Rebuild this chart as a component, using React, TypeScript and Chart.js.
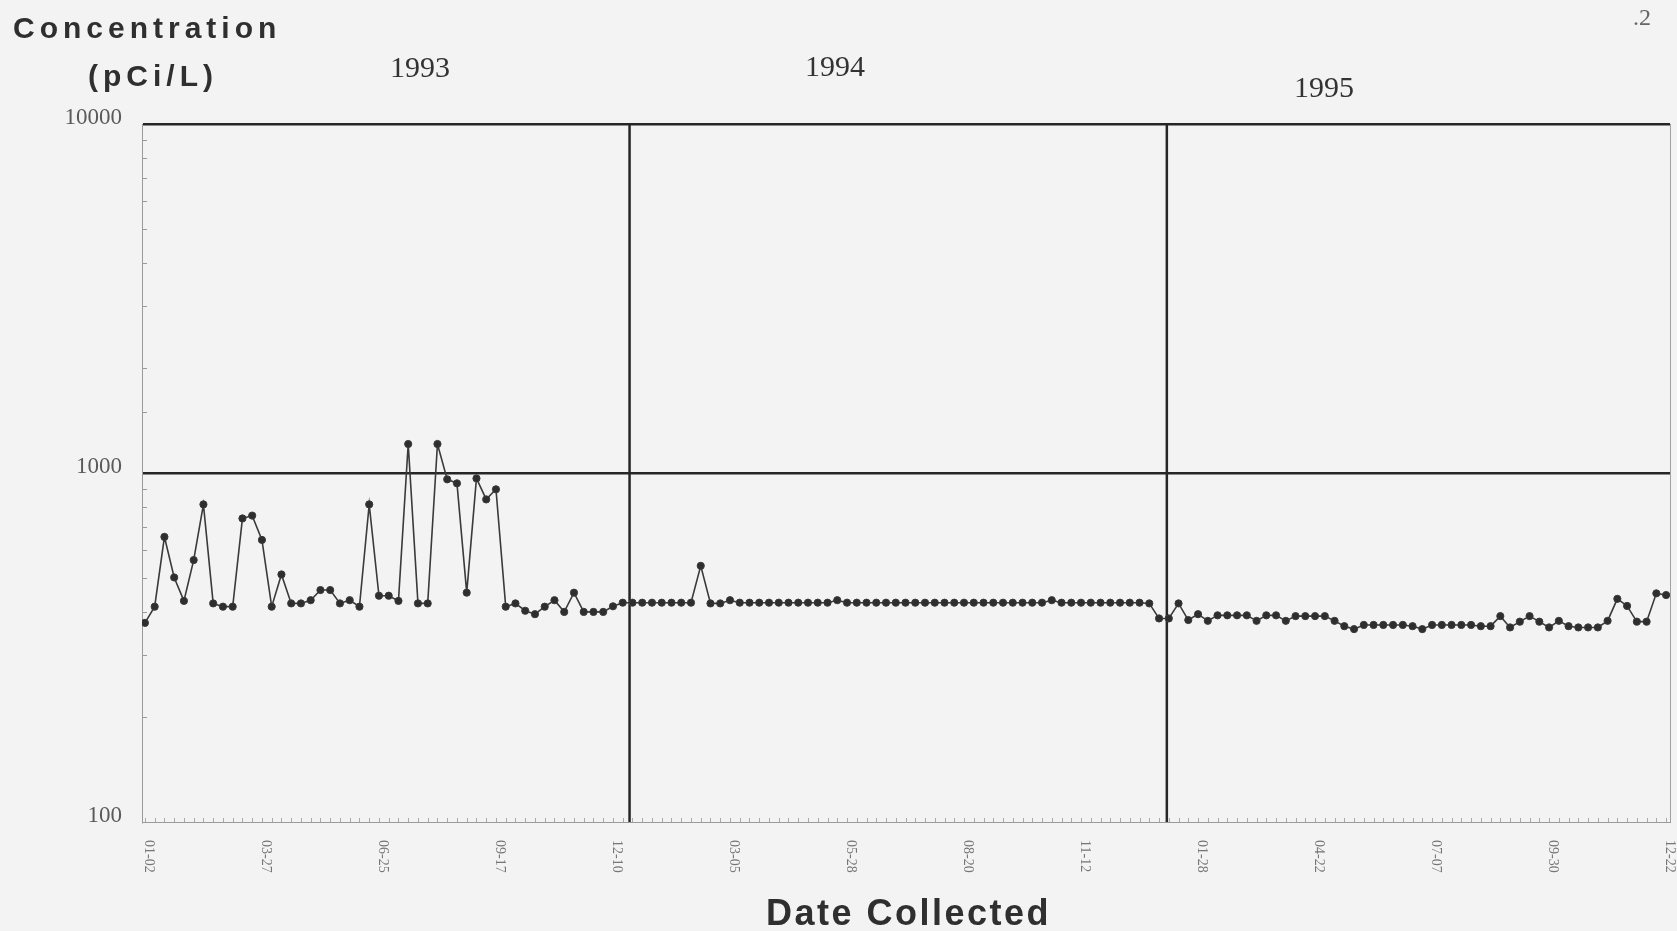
import React, { useEffect, useRef } from "react";
import { Chart, registerables } from "chart.js";

Chart.register(...registerables);

// Weekly tritium concentration samples (pCi/L), 1993-01-02 .. 1995-12-22
const concentration: number[] = [
  372, 414, 656, 502, 430, 563, 813, 423, 414, 414,
  741, 755, 643, 414, 512, 423, 423, 432, 462, 462,
  423, 432, 414, 813, 445, 445, 430, 1211, 423, 423,
  1211, 959, 934, 454, 965, 840, 898, 414, 423, 403,
  394, 414, 432, 400, 454, 400, 400, 400, 415,
  425, 425, 425, 425, 425, 425, 425, 425,
  542,
  423, 423, 432,
  425, 425, 425, 425, 425, 425, 425, 425, 425, 425,
  432,
  425, 425, 425, 425, 425, 425, 425, 425, 425, 425,
  425, 425, 425, 425, 425, 425, 425, 425, 425, 425, 425,
  432,
  425, 425, 425, 425, 425, 425, 425, 425, 425,
  423,
  383, 383, 423, 379, 394, 377, 391, 391, 391, 391,
  377, 391, 391, 377, 389, 389, 389, 389, 377, 364,
  357, 367, 367, 367, 367, 367, 364, 357, 367, 367,
  367, 367, 367, 364, 364, 389, 361, 375, 389, 375,
  361, 377, 364, 361, 361, 361, 377, 436, 416, 375,
  375, 452, 447,
];

const sampleIndex: number[] = concentration.map((_, i) => i);

const xTickIndex: number[] = [0, 12, 24, 36, 48, 60, 72, 84, 96, 108, 120, 132, 144, 156];
const xTickLabels: string[] = [
  "01-02", "03-27", "06-25", "09-17", "12-10", "03-05", "05-28",
  "08-20", "11-12", "01-28", "04-22", "07-07", "09-30", "12-22",
];

const yearLabels: string[] = ["1993", "1994", "1995"];
const yearBoundaries: number[] = [49.7, 104.8];
const yMajorTicks: number[] = [100, 1000, 10000];

const yAxisTitle: string[] = ["Concentration", "(pCi/L)"];
const xAxisTitle = "Date Collected";
const pageMark = ".2";

const SANS = '"Liberation Sans", Arial, Helvetica, sans-serif';
const SERIF = '"Liberation Serif", "Times New Roman", serif';

const decorPlugin = {
  id: "decor",
  beforeDatasetsDraw(chart: any) {
    const { ctx, chartArea, scales } = chart;
    const x = scales.x;
    const y = scales.y;
    ctx.save();
    // right border
    ctx.strokeStyle = "#a0a0a0";
    ctx.lineWidth = 1;
    ctx.beginPath();
    ctx.moveTo(chartArea.right + 0.5, chartArea.top);
    ctx.lineTo(chartArea.right + 0.5, chartArea.bottom);
    ctx.stroke();
    // minor ticks on left axis (inward)
    ctx.strokeStyle = "#9a9a9a";
    ctx.lineWidth = 1;
    for (const t of y.ticks) {
      if (yMajorTicks.includes(t.value)) continue;
      const py = Math.round(y.getPixelForValue(t.value)) + 0.5;
      ctx.beginPath();
      ctx.moveTo(chartArea.left, py);
      ctx.lineTo(chartArea.left + 5, py);
      ctx.stroke();
    }
    // minor ticks on bottom axis, one per sample (inward)
    ctx.strokeStyle = "#a8a8a8";
    for (const i of sampleIndex) {
      const px = Math.round(x.getPixelForValue(i)) + 0.5;
      ctx.beginPath();
      ctx.moveTo(px, chartArea.bottom);
      ctx.lineTo(px, chartArea.bottom - 4);
      ctx.stroke();
    }
    // year boundary lines
    ctx.strokeStyle = "#262626";
    ctx.lineWidth = 2.5;
    for (const b of yearBoundaries) {
      const px = x.getPixelForValue(b);
      ctx.beginPath();
      ctx.moveTo(px, chartArea.top);
      ctx.lineTo(px, chartArea.bottom);
      ctx.stroke();
    }
    ctx.restore();
  },
  afterDraw(chart: any) {
    const { ctx, chartArea, scales } = chart;
    const x = scales.x;
    ctx.save();
    // x tick labels, rotated clockwise
    ctx.fillStyle = "#767676";
    ctx.font = `14px ${SERIF}`;
    ctx.textAlign = "left";
    ctx.textBaseline = "middle";
    xTickIndex.forEach((v, k) => {
      const px = x.getPixelForValue(v) + 4;
      ctx.save();
      ctx.translate(px, chartArea.bottom + 18);
      ctx.rotate(Math.PI / 2);
      ctx.fillText(xTickLabels[k], 0, 0);
      ctx.restore();
    });
    // y-axis title
    ctx.fillStyle = "#2f2f2f";
    ctx.font = `bold 30px ${SANS}`;
    (ctx as any).letterSpacing = "5px";
    ctx.textBaseline = "middle";
    ctx.textAlign = "left";
    ctx.fillText(yAxisTitle[0], 13, 30);
    ctx.fillText(yAxisTitle[1], 88, 78);
    // x-axis title
    (ctx as any).letterSpacing = "2.5px";
    ctx.font = `bold 36px ${SANS}`;
    ctx.fillText(xAxisTitle, 766, 915);
    (ctx as any).letterSpacing = "0px";
    // year labels
    ctx.fillStyle = "#333";
    ctx.font = `30px ${SERIF}`;
    ctx.textAlign = "center";
    const yearPos = [
      [420, 69],
      [835, 68],
      [1324, 89],
    ];
    yearLabels.forEach((t, k) => ctx.fillText(t, yearPos[k][0], yearPos[k][1]));
    // page mark
    ctx.fillStyle = "#666";
    ctx.font = `24px ${SERIF}`;
    ctx.fillText(pageMark, 1642, 19);
    ctx.restore();
  },
};

export default function App() {
  const canvasRef = useRef<HTMLCanvasElement | null>(null);

  useEffect(() => {
    if (!canvasRef.current) return;
    const chart = new Chart(canvasRef.current, {
      type: "line",
      data: {
        datasets: [
          {
            data: concentration.map((v, i) => ({ x: sampleIndex[i], y: v })),
            borderColor: "#3a3a3a",
            borderWidth: 1.6,
            pointRadius: 3.6,
            pointBackgroundColor: "#2e2e2e",
            pointBorderColor: "#3a3a3a",
            pointBorderWidth: 1,
            tension: 0,
          },
        ],
      },
      options: {
        responsive: false,
        animation: false,
        devicePixelRatio: 1,
        layout: { padding: { top: 124, right: 7, left: 0, bottom: 0 } },
        plugins: {
          legend: { display: false },
          tooltip: { enabled: false },
          title: { display: false },
        },
        scales: {
          x: {
            type: "linear",
            min: -0.3,
            max: 156.4,
            afterBuildTicks: (s: any) => {
              s.ticks = xTickIndex.map((v) => ({ value: v }));
            },
            afterFit: (s: any) => {
              s.height = 109;
            },
            ticks: { display: false },
            grid: { display: false, drawTicks: false },
            border: { display: true, color: "#9a9a9a", width: 1 },
          },
          y: {
            type: "logarithmic",
            min: 100,
            max: 10000,
            afterFit: (s: any) => {
              s.width = 142;
            },
            border: { display: true, color: "#9a9a9a", width: 1 },
            grid: {
              drawTicks: false,
              lineWidth: 2.5,
              color: (c: any) =>
                c.tick && (c.tick.value === 1000 || c.tick.value === 10000)
                  ? "#262626"
                  : "rgba(0,0,0,0)",
            },
            ticks: {
              autoSkip: false,
              padding: 20,
              labelOffset: -6,
              color: "#5a5a5a",
              font: { family: SERIF, size: 23 },
              callback: (v: any) => (yMajorTicks.includes(Number(v)) ? String(v) : ""),
            },
          },
        },
      },
      plugins: [decorPlugin],
    });
    return () => chart.destroy();
  }, []);

  return (
    <div
      style={{
        position: "fixed",
        left: 0,
        top: 0,
        width: 1677,
        height: 931,
        background: "#f3f3f3",
      }}
    >
      <canvas ref={canvasRef} width={1677} height={931} />
    </div>
  );
}
